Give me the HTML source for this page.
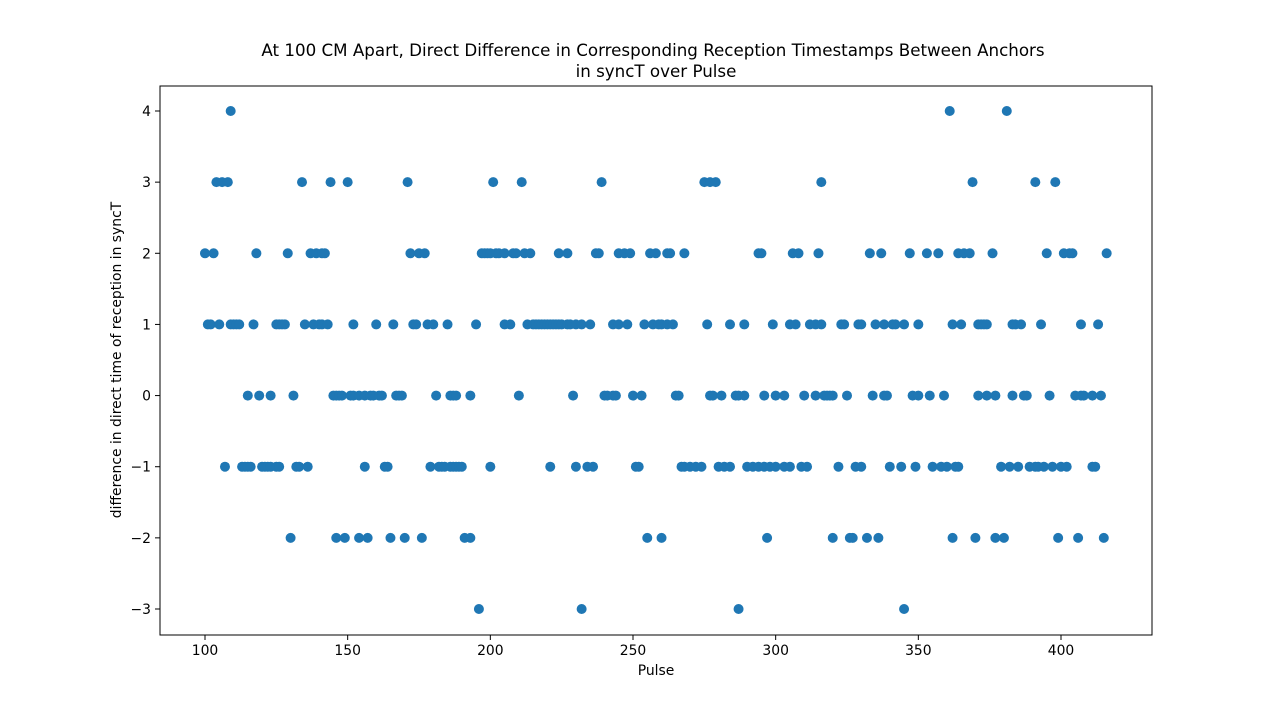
<!DOCTYPE html>
<html><head><meta charset="utf-8"><style>
body{margin:0;background:#fff}
svg text{font-family:"DejaVu Sans","Liberation Sans",sans-serif;fill:#000}
</style></head><body>
<svg id="chart" width="1280" height="713" viewBox="0 0 1280 713" xmlns="http://www.w3.org/2000/svg">
<text x="653" y="56" font-size="16.7" text-anchor="middle">At 100 CM Apart, Direct Difference in Corresponding Reception Timestamps Between Anchors</text>
<text x="656" y="77" font-size="16.7" text-anchor="middle">in syncT over Pulse</text>
<text x="656" y="675" font-size="13.9" text-anchor="middle">Pulse</text>
<text transform="translate(121,360) rotate(-90)" font-size="13.9" text-anchor="middle">difference in direct time of reception in syncT</text>
<g id="ticks"></g>
<g id="points"></g>
<rect x="160" y="86" width="992" height="549" fill="none" stroke="#000" stroke-width="1"/>
</svg>
<script>
const xTicks=[100,150,200,250,300,350,400];
const yTicks=[-3,-2,-1,0,1,2,3,4];
const lvl4=[109,361,381];
const lvl3=[104,106,108,134,144,150,171,201,211,239,275,277,279,316,369,391,398];
const lvl2=[100,103,118,129,137,139,141,142,172,175,177,197,198,199,200,202,203,205,208,209,212,214,224,227,237,238,245,247,249,256,258,262,263,268,294,295,306,308,315,333,337,347,353,357,364,366,368,376,395,401,403,404,416];
const lvl1=[101,102,105,109,110,111,112,117,125,126,127,128,135,138,140,141,143,152,160,166,173,174,178,180,185,195,205,207,213,215,216,217,218,219,220,221,222,223,224,225,227,228,230,232,235,243,245,248,254,257,259,260,262,264,276,284,289,299,305,307,312,314,316,323,324,329,330,335,338,341,342,345,350,362,365,371,372,373,374,383,384,386,393,407,413];
const lvl0=[115,119,123,131,145,146,147,148,151,152,154,156,158,159,161,162,167,168,169,181,186,187,188,193,210,229,240,241,243,244,250,253,265,266,277,278,281,286,287,289,296,300,303,310,314,317,318,319,320,325,334,338,339,348,350,354,359,371,374,377,383,387,388,396,405,407,408,411,414];
const lvlm1=[107,113,114,115,116,120,121,122,123,125,126,132,133,136,156,163,164,179,182,183,184,186,187,188,189,190,200,221,230,234,236,251,252,267,268,270,272,274,280,282,284,290,292,294,296,298,300,303,305,309,311,322,328,330,340,344,349,355,358,360,363,364,379,382,385,389,391,392,394,397,400,402,411,412];
const lvlm2=[130,146,149,154,157,165,170,176,191,193,255,260,297,320,326,327,332,336,362,370,377,380,399,406,415];
const lvlm3=[196,232,287,345];
const levels=[4,3,2,1,0,-1,-2,-3];
const groups=[lvl4,lvl3,lvl2,lvl1,lvl0,lvlm1,lvlm2,lvlm3];
const NS="http://www.w3.org/2000/svg";
const X=v=>205+(v-100)*(1061-205)/300;
const Y=v=>111+(4-v)*(609-111)/7;
const tg=document.getElementById('ticks');
xTicks.forEach(t=>{
 const l=document.createElementNS(NS,'line');
 l.setAttribute('x1',X(t));l.setAttribute('x2',X(t));l.setAttribute('y1',635);l.setAttribute('y2',640);l.setAttribute('stroke','#000');
 
 
 tg.appendChild(l);
 const tx=document.createElementNS(NS,'text');
 tx.setAttribute('x',X(t));tx.setAttribute('y',655);tx.setAttribute('font-size','13.9');tx.setAttribute('text-anchor','middle');tx.textContent=t;
 
 
 tg.appendChild(tx);
});
yTicks.forEach(t=>{
 const l=document.createElementNS(NS,'line');
 l.setAttribute('x1',155);l.setAttribute('x2',160);l.setAttribute('y1',Y(t));l.setAttribute('y2',Y(t));l.setAttribute('stroke','#000');
 
 
 tg.appendChild(l);
 const tx=document.createElementNS(NS,'text');
 tx.setAttribute('x',151);tx.setAttribute('y',Y(t)+5);tx.setAttribute('font-size','13.9');tx.setAttribute('text-anchor','end');tx.textContent=(t<0?'\u2212'+(-t):t);
 
 
 tg.appendChild(tx);
});
const pg=document.getElementById('points');
groups.forEach((g,i)=>g.forEach(p=>{
 const c=document.createElementNS(NS,'circle');
 c.setAttribute('cx',X(p));c.setAttribute('cy',Y(levels[i]));c.setAttribute('r',5);c.setAttribute('fill','#1f77b4');
 
 
 pg.appendChild(c);
}));
</script>
</body></html>
